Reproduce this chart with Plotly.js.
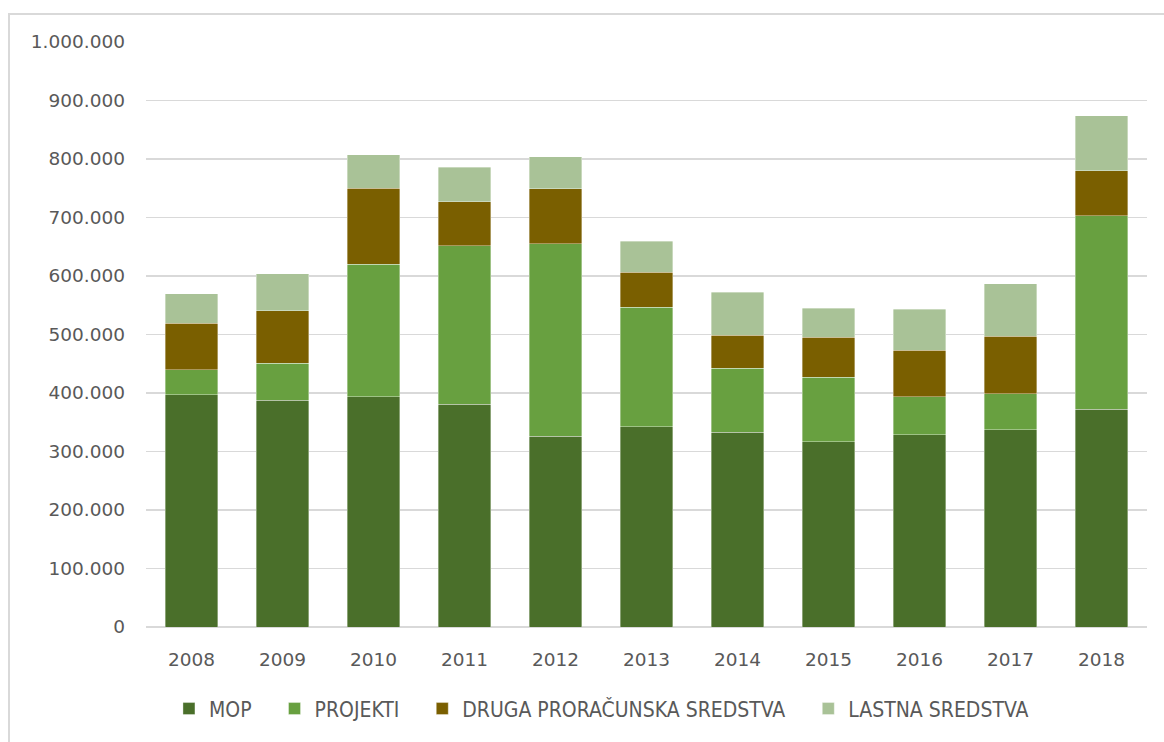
<!DOCTYPE html>
<html>
<head>
<meta charset="utf-8">
<script src="https://cdn.plot.ly/plotly-3.0.1.min.js"></script>
<style>
html,body{margin:0;padding:0;background:#fff;}
#wrap{position:relative;width:1164px;height:742px;overflow:hidden;}
#chart{position:absolute;left:0;top:0;width:1164px;height:742px;}
#bt{position:absolute;left:8px;top:13px;width:1160px;height:2px;background:#d9d9d9;}
#bl{position:absolute;left:8px;top:13px;width:2px;height:740px;background:#d9d9d9;}
</style>
</head>
<body>
<div id="wrap"><div id="chart"></div><div id="bt"></div><div id="bl"></div></div>
<script>
const years = ['2008','2009','2010','2011','2012','2013','2014','2015','2016','2017','2018'];
const mop    = [397000,388000,394000,381000,326000,342000,333000,317000,329000,337000,372000];
const projekti = [43000,63000,226000,271000,329000,205000,109000,110000,65000,62000,331000];
const druga  = [79000,90000,130000,75000,94000,59000,57000,68000,79000,98000,77000];
const lastna = [51000,63000,57000,59000,55000,53000,73000,50000,70000,90000,94000];
const yTicks = [0,100000,200000,300000,400000,500000,600000,700000,800000,900000,1000000];

const names = ['MOP','PROJEKTI','DRUGA PRORAČUNSKA SREDSTVA','LASTNA SREDSTVA'];
const colors = ['#4a6f2a','#68a040','#7a5f00','#a9c297'];
const series = [mop, projekti, druga, lastna];
const pad = '\u00a0\u00a0\u00a0';

const traces = series.map((s,i)=>({
  type:'bar', x: years, y: s, name: names[i] + (i < 3 ? pad : ''),
  marker:{color:colors[i], line:{color:'rgba(255,255,255,0.6)', width:0.6}},
  hoverinfo:'x+y+name'
}));

const tickFont = {family:'"DejaVu Sans", sans-serif', size:18.5, color:'#595959'};
const layout = {
  width:1164, height:742,
  barmode:'stack', bargap:0.425,
  paper_bgcolor:'rgba(0,0,0,0)', plot_bgcolor:'#fff',
  separators:',.',
  margin:{l:146, r:17, t:42, b:115},
  font:{family:'"DejaVu Sans", sans-serif', color:'#595959', size:16},
  xaxis:{type:'category', showgrid:false, ticks:'', tickfont:tickFont, ticklabelstandoff:19, zeroline:false, showline:false},
  yaxis:{range:[0,1000000], tickvals:yTicks, tickformat:',d', gridcolor:'#d9d9d9', gridwidth:1.3,
         zeroline:true, zerolinecolor:'#d9d9d9', zerolinewidth:1.5, tickfont:tickFont, ticklabelstandoff:20, showline:false},
  legend:{orientation:'h', x:0.455, xanchor:'center', y:-0.14, yanchor:'middle', traceorder:'normal',
          font:{family:'"Liberation Sans Narrow", "DejaVu Sans Condensed", "Roboto Condensed", sans-serif', size:21, color:'#595959'},
          itemwidth:30, tracegroupgap:0, itemclick:false},
  showlegend:true
};
Plotly.newPlot('chart', traces, layout, {displayModeBar:false, staticPlot:true});
</script>
</body>
</html>
